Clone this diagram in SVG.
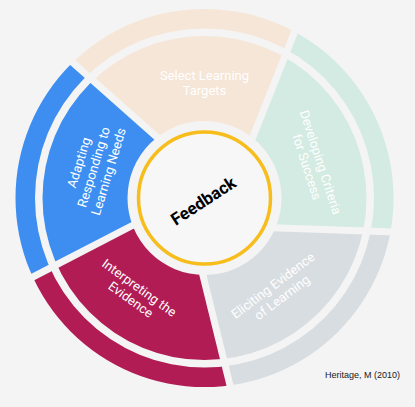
<svg xmlns="http://www.w3.org/2000/svg" width="415" height="407" viewBox="0 0 415 407">
<defs>
<clipPath id="rings">
<path clip-rule="evenodd" d="M15.5,198 a189,189 0 1,0 378,0 a189,189 0 1,0 -378,0 Z M35,198 a169.5,169.5 0 1,0 339,0 a169.5,169.5 0 1,0 -339,0 Z M42.5,198 a162,162 0 1,0 324,0 a162,162 0 1,0 -324,0 Z M127.5,198 a77,77 0 1,0 154,0 a77,77 0 1,0 -154,0 Z"/>
</clipPath>
<style>
.seg{clip-path:url(#rings);}
.lbl{font-family:Roboto,"Liberation Sans",sans-serif;font-size:13px;fill:#ffffff;text-anchor:middle;}
</style>
</defs>
<rect x="0" y="0" width="415" height="407" fill="#f4f4f4"/>
<g id="select-learning-targets">
<polygon class="seg" fill="#f6e6d7" points="174.89,148.54 36.51,25.70 157.6,-98.3 310.54,-18.16 242.46,153.89"/>
<text class="lbl" x="204.5" y="80">Select Learning</text>
<text class="lbl" x="204.5" y="95">Targets</text>
</g>
<g id="developing-criteria">
<polygon class="seg" fill="#d3ebe2" points="248.97,156.47 317.05,-15.58 471.8,61.8 443.5,230.38 258.61,223.72"/>
<g transform="rotate(72 204.5 198)">
<text class="lbl" x="206.5" y="81">Developing Criteria</text>
<text class="lbl" x="206.5" y="95.5">for Success</text>
</g>
</g>
<g id="eliciting-evidence">
<polygon class="seg" fill="#d8dde1" points="258.35,230.72 443.24,237.38 416.6,410.1 245.85,434.98 201.64,255.35"/>
<g transform="rotate(-37 204.5 198)">
<text class="lbl" x="206.5" y="313.5">Eliciting Evidence</text>
<text class="lbl" x="206.5" y="328.5">of Learning</text>
</g>
</g>
<g id="interpreting-evidence">
<polygon class="seg" fill="#b11c54" points="194.84,257.03 239.05,436.66 63.7,462.9 -11.03,303.71 153.25,218.61"/>
<g transform="rotate(36 204.5 198)">
<text class="lbl" x="204.5" y="313.5">Interpreting the</text>
<text class="lbl" x="204.5" y="328">Evidence</text>
</g>
</g>
<g id="adapting-responding">
<polygon class="seg" fill="#3d8ef0" points="150.03,212.39 -14.25,297.49 -90.9,145.9 31.87,30.94 170.25,153.78"/>
<g transform="rotate(-73 204.5 198)">
<text class="lbl" x="201.7" y="72">Adapting</text>
<text class="lbl" x="201.7" y="87.5">Responding to</text>
<text class="lbl" x="201.7" y="103">Learning Needs</text>
</g>
</g>
<g id="feedback">
<circle cx="204.5" cy="198" r="66" fill="#f7f7f7" stroke="#f6bd1d" stroke-width="3.5"/>
<text x="203.3" y="206.8" transform="rotate(-33 203.3 200.8)" font-family="Roboto,'Liberation Sans',sans-serif" font-weight="bold" font-size="17" fill="#000000" text-anchor="middle">Feedback</text>
</g>
<text x="325" y="378" font-family="'Liberation Sans',Arial,sans-serif" font-size="9" fill="#1a1a1a">Heritage, M (2010)</text>
</svg>
